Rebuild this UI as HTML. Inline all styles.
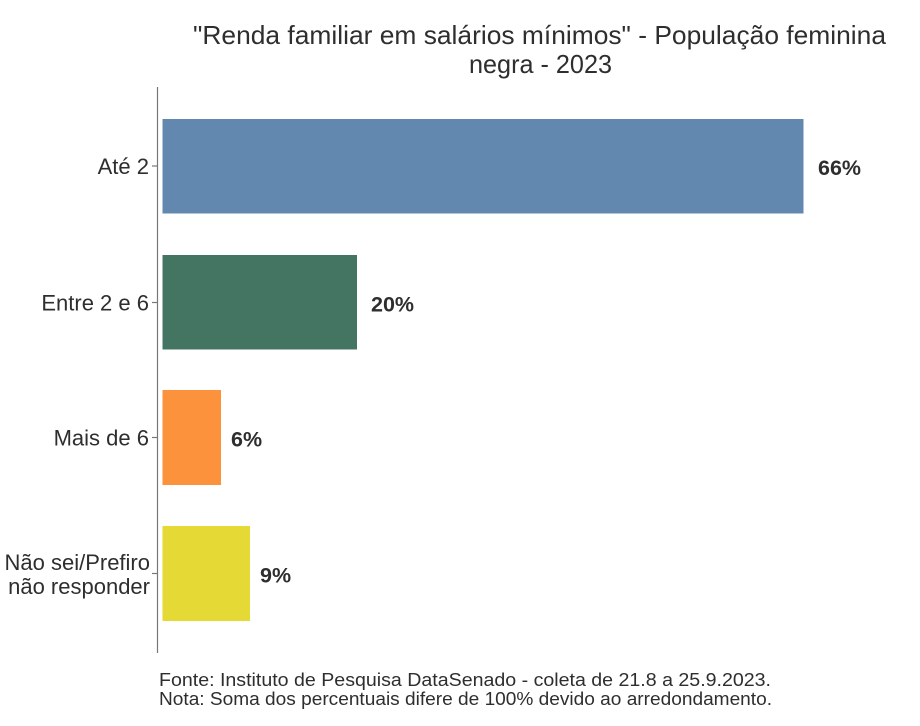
<!DOCTYPE html>
<html><head><meta charset="utf-8"><style>
html,body{margin:0;padding:0;background:#fff;}
svg{display:block;}
text{font-family:"Liberation Sans",Arial,sans-serif;fill:#2e2e2e;}
</style></head><body>
<svg width="920" height="726" viewBox="0 0 920 726" xmlns="http://www.w3.org/2000/svg">
<rect width="920" height="726" fill="#fff"/>
<text x="193" y="44" font-size="26" textLength="693" lengthAdjust="spacingAndGlyphs">"Renda familiar em salários mínimos" - População feminina</text>
<text x="469" y="73" font-size="26" textLength="143" lengthAdjust="spacingAndGlyphs">negra - 2023</text>
<line x1="157.5" y1="87" x2="157.5" y2="653" stroke="#777" stroke-width="1.2"/>
<g stroke="#777" stroke-width="1.2">
<line x1="152" y1="166" x2="157.5" y2="166"/>
<line x1="152" y1="302.5" x2="157.5" y2="302.5"/>
<line x1="152" y1="437.5" x2="157.5" y2="437.5"/>
<line x1="152" y1="573.5" x2="157.5" y2="573.5"/>
</g>
<rect x="162.5" y="119" width="641" height="94.5" fill="#6388b0"/>
<rect x="162.5" y="255" width="194.5" height="94.5" fill="#447563"/>
<rect x="162.5" y="390" width="58.5" height="95" fill="#fc923c"/>
<rect x="162.5" y="526" width="87.5" height="95" fill="#e5d936"/>
<g font-size="22" text-anchor="end">
<text x="149" y="174">Até 2</text>
<text x="149" y="310.5">Entre 2 e 6</text>
<text x="149" y="445.5">Mais de 6</text>
<text x="150" y="570">Não sei/Prefiro</text>
<text x="150" y="594">não responder</text>
</g>
<g font-size="21.5" font-weight="bold">
<text x="818" y="175">66%</text>
<text x="371" y="311.5">20%</text>
<text x="231" y="446.5">6%</text>
<text x="260" y="582.5">9%</text>
</g>
<g font-size="18">
<text x="159" y="686" textLength="612" lengthAdjust="spacingAndGlyphs">Fonte: Instituto de Pesquisa DataSenado - coleta de 21.8 a 25.9.2023.</text>
<text x="159" y="705" textLength="613" lengthAdjust="spacingAndGlyphs">Nota: Soma dos percentuais difere de 100% devido ao arredondamento.</text>
</g>
</svg>
</body></html>
